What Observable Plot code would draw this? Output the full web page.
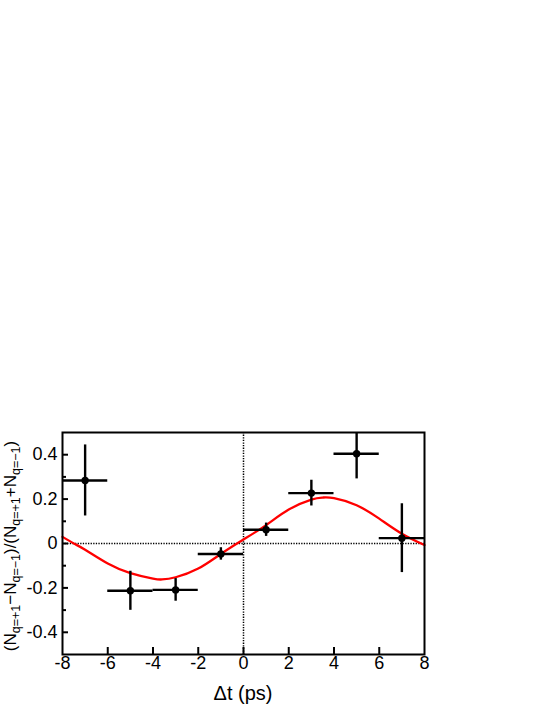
<!DOCTYPE html>
<html><head><meta charset="utf-8">
<script src="https://cdn.jsdelivr.net/npm/d3@7"></script>
<script src="https://cdn.jsdelivr.net/npm/@observablehq/plot@0.6"></script>
<style>body{margin:0;background:#fff;} svg{display:block;}</style>
</head><body><div id="chart"></div>
<script>
// Measured asymmetry in bins of Δt
const binCenters   = [-7, -5, -3, -1, 1, 3, 5, 7];
const binHalfWidth = [1, 1, 1, 1, 1, 1, 1, 1];
const asymmetry    = [0.284, -0.213, -0.209, -0.047, 0.062, 0.227, 0.404, 0.024];
const asymErr      = [0.160, 0.088, 0.051, 0.028, 0.030, 0.058, 0.113, 0.155];

// Fit curve
const fitT = [-8, -7.5, -7, -6, -5, -4, -3.6, -3, -2, -1, 0, 1, 2, 3, 3.5, 4, 5, 6, 7, 8];
const fitA = [0.030, 0.000, -0.028, -0.090, -0.133, -0.158, -0.162, -0.152, -0.113, -0.047, 0.018, 0.083, 0.153, 0.198, 0.207, 0.204, 0.172, 0.112, 0.044, -0.007];

const xTickValues = [-8, -6, -4, -2, 0, 2, 4, 6, 8];
const xTickMarks  = [-6, -4, -2, 0, 2, 4, 6];
const yTickValues = [-0.4, -0.2, 0, 0.2, 0.4];
const yMinorTicks = [-0.3, -0.1, 0.1, 0.3];
const xDomain = [-8, 8];
const yDomain = [-0.5, 0.5];
const xLabel = "Δt (ps)";
const yLabelParts = [
  ["(N", false], ["q=+1", true], ["−N", false], ["q=−1", true],
  [")/(N", false], ["q=+1", true], ["+N", false], ["q=−1", true], [")", false]
];

const points = binCenters.map((t, i) => ({t, hw: binHalfWidth[i], a: asymmetry[i], e: asymErr[i]}));
const fit = fitT.map((t, i) => ({t, a: fitA[i]}));

const fmt = d => d === 0 ? "0" : (d < 0 ? "-" : "") + Math.abs(d).toFixed(Number.isInteger(d) ? 0 : 1);

const W = 545, H = 705, mT = 432, mB = 51, mL = 62, mR = 121;
const frameW = W - mL - mR, frameH = H - mT - mB;

const chart = Plot.plot({
  width: W,
  height: H,
  marginTop: mT,
  marginBottom: mB,
  marginLeft: mL,
  marginRight: mR,
  style: {fontFamily: "'Liberation Sans', Arial, sans-serif", fontSize: "18px", background: "#fff", color: "#000"},
  x: {domain: xDomain},
  y: {domain: yDomain},
  marks: [
    Plot.ruleY([0], {stroke: "#000", strokeWidth: 1.5, strokeDasharray: "1.3,1.3"}),
    Plot.ruleX([0], {stroke: "#000", strokeWidth: 1.5, strokeDasharray: "1.3,1.3"}),
    Plot.line(fit, {x: "t", y: "a", stroke: "#ff0000", strokeWidth: 2.3, curve: "natural"}),
    Plot.ruleY(points, {y: "a", x1: d => d.t - d.hw, x2: d => d.t + d.hw, stroke: "#000", strokeWidth: 2.4}),
    Plot.ruleX(points, {x: "t", y1: d => d.a - d.e, y2: d => d.a + d.e, stroke: "#000", strokeWidth: 2.4, clip: true}),
    Plot.dot(points, {x: "t", y: "a", r: 3.7, fill: "#000"}),
    Plot.tickX(xTickMarks, {x: d => d, insetTop: frameH - 7, stroke: "#000", strokeWidth: 2}),
    Plot.tickY(yTickValues, {y: d => d, insetRight: frameW - 6, stroke: "#000", strokeWidth: 2}),
    Plot.tickY(yMinorTicks, {y: d => d, insetRight: frameW - 4, stroke: "#000", strokeWidth: 2}),
    Plot.axisX({ticks: xTickValues, tickSize: 0, tickPadding: 2, tickFormat: fmt, label: null, fontSize: 18}),
    Plot.axisY({ticks: yTickValues, tickSize: 0, tickPadding: 5, tickFormat: fmt, label: null, fontSize: 18}),
    Plot.frame({stroke: "#000", strokeWidth: 2})
  ]
});

const svg = d3.select(chart);
const xs = chart.scale("x"), ys = chart.scale("y");
const cx = (xs.apply(xDomain[0]) + xs.apply(xDomain[1])) / 2;
const cy = (ys.apply(yDomain[0]) + ys.apply(yDomain[1])) / 2;

svg.append("text")
  .attr("x", cx).attr("y", ys.apply(yDomain[0]) + 46)
  .attr("text-anchor", "middle")
  .style("font-size", "20px")
  .attr("fill", "#000")
  .text(xLabel);

const yl = svg.append("text")
  .attr("transform", `translate(16,${cy + 3}) rotate(-90)`)
  .attr("text-anchor", "middle")
  .style("font-size", "17px")
  .attr("fill", "#000");
let shifted = false;
for (const [s, sub] of yLabelParts) {
  const t = yl.append("tspan").text(s);
  if (sub) t.style("font-size", "12.5px");
  if (sub && !shifted) { t.attr("dy", 4); shifted = true; }
  else if (!sub && shifted) { t.attr("dy", -4); shifted = false; }
}

document.getElementById("chart").appendChild(chart);
</script>
</body></html>
